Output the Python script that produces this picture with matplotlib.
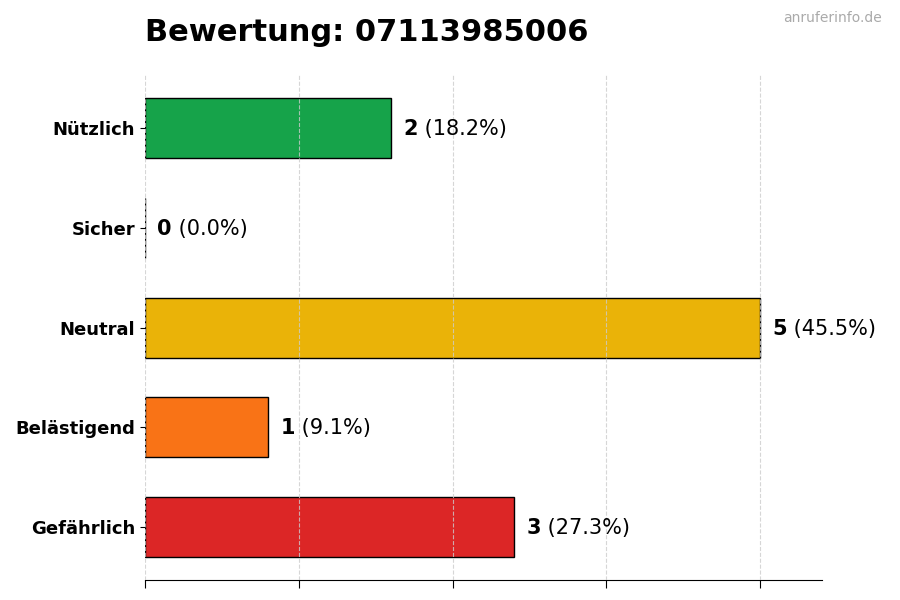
import matplotlib
matplotlib.use('Agg')
import matplotlib.pyplot as plt
import numpy as np

categories = ['Nützlich', 'Sicher', 'Neutral', 'Belästigend', 'Gefährlich']
counts = [2, 0, 5, 1, 3]
colors = ['#16a34a', '#6b7280', '#eab308', '#f97316', '#dc2626']
total = sum(counts)

fig = plt.figure(figsize=(9, 6), dpi=100)
ax = fig.add_axes([0.161, 0.033, 0.752, 0.842])

y = np.arange(len(categories))[::-1]
ax.barh(y, counts, height=0.6, color=colors, edgecolor='black', linewidth=1.0, zorder=1)

for yi, c in zip(y, counts):
    pct = 100.0 * c / total
    t = ax.text(c + 0.1, yi - 0.01, str(c), fontsize=15, fontweight='bold', va='center', ha='left')
    ax.annotate(' (%.1f%%)' % pct, xy=(1, 0), xycoords=t, va='bottom', ha='left', fontsize=15)

ax.set_yticks(y)
ax.set_yticklabels(categories, fontsize=13, fontweight='bold')
ax.set_xlim(0, max(counts) * 1.1)
ax.set_xticks([0, 1.25, 2.5, 3.75, 5])
ax.set_xticklabels([])
ax.set_axisbelow(False)
ax.grid(axis='x', linestyle='--', color='#cccccc', alpha=0.8, linewidth=0.8)
for s in ['top', 'right', 'left']:
    ax.spines[s].set_visible(False)
ax.tick_params(axis='x', length=6)

fig.text(0.161, 0.946, 'Bewertung: 07113985006', fontsize=22, fontweight='bold', ha='left', va='center')
fig.text(0.98, 0.97, 'anruferinfo.de', fontsize=10, color='#aaaaaa', ha='right', va='center')

fig.savefig('out.png', dpi=100)
